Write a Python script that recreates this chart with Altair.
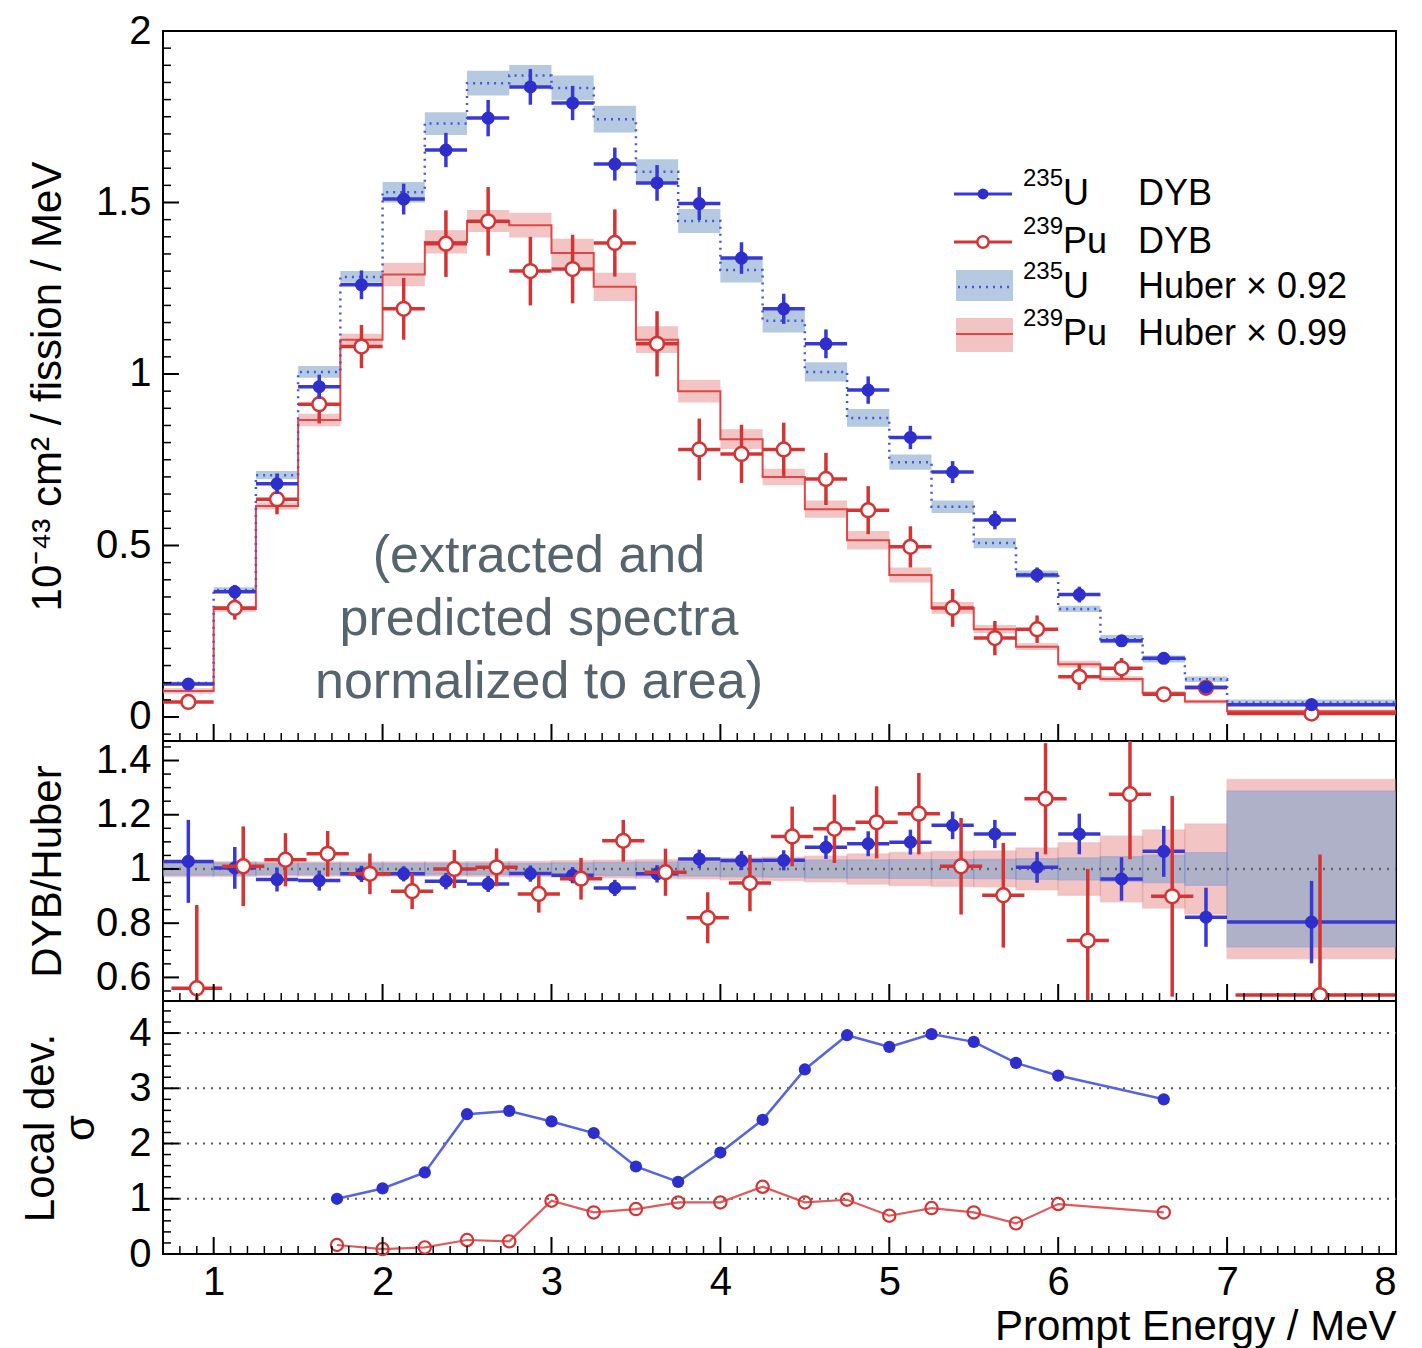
import altair as alt
import pandas as pd

FONT = "Liberation Sans"

# ---------------- data ----------------
bin_edges = [0.7, 1.0, 1.25, 1.5, 1.75, 2.0, 2.25, 2.5, 2.75, 3.0, 3.25, 3.5, 3.75, 4.0,
             4.25, 4.5, 4.75, 5.0, 5.25, 5.5, 5.75, 6.0, 6.25, 6.5, 6.75, 7.0, 8.0]

# top panel: extracted (DYB) spectra and Huber predictions
u_dyb = [0.096, 0.365, 0.68, 0.963, 1.26, 1.51, 1.653, 1.746, 1.837, 1.79, 1.612, 1.557, 1.497,
         1.338, 1.19, 1.088, 0.953, 0.815, 0.714, 0.574, 0.414, 0.357, 0.222, 0.171, 0.087, 0.036]
u_dyb_err = [0.012, 0.02, 0.03, 0.035, 0.042, 0.045, 0.05, 0.053, 0.052, 0.05, 0.048, 0.052, 0.048,
             0.046, 0.044, 0.042, 0.04, 0.034, 0.032, 0.027, 0.022, 0.023, 0.015, 0.012, 0.011, 0.008]
pu_dyb = [0.044, 0.318, 0.635, 0.912, 1.08, 1.19, 1.38, 1.445, 1.30, 1.306, 1.382, 1.088, 0.78,
          0.767, 0.78, 0.694, 0.603, 0.496, 0.318, 0.23, 0.256, 0.117, 0.142, 0.066, 0.085, 0.01]
pu_dyb_err = [0.01, 0.034, 0.044, 0.056, 0.063, 0.09, 0.097, 0.10, 0.10, 0.10, 0.098, 0.095, 0.09,
              0.085, 0.078, 0.076, 0.07, 0.06, 0.055, 0.05, 0.04, 0.038, 0.03, 0.022, 0.02, 0.01]
u_huber = [0.099, 0.37, 0.705, 1.006, 1.283, 1.53, 1.73, 1.848, 1.87, 1.834, 1.743, 1.59, 1.446,
           1.303, 1.155, 1.006, 0.872, 0.743, 0.613, 0.507, 0.416, 0.315, 0.227, 0.169, 0.11, 0.042]
u_huber_err = [0.004, 0.008, 0.012, 0.017, 0.017, 0.03, 0.033, 0.036, 0.031, 0.036, 0.039, 0.036, 0.035,
               0.036, 0.034, 0.028, 0.026, 0.022, 0.018, 0.015, 0.011, 0.009, 0.012, 0.01, 0.008, 0.009]
pu_huber = [0.076, 0.315, 0.615, 0.866, 1.10, 1.29, 1.385, 1.446, 1.434, 1.353, 1.254, 1.10, 0.95,
            0.81, 0.70, 0.606, 0.515, 0.414, 0.318, 0.256, 0.205, 0.154, 0.111, 0.069, 0.045, 0.017]
pu_huber_err = [0.008, 0.008, 0.01, 0.018, 0.017, 0.034, 0.034, 0.032, 0.036, 0.041, 0.041, 0.039, 0.033,
                0.029, 0.024, 0.025, 0.027, 0.022, 0.017, 0.012, 0.01, 0.01, 0.008, 0.007, 0.006, 0.005]

# middle panel: DYB / Huber ratios
u_ratio = [1.028, 1.004, 0.961, 0.957, 0.982, 0.982, 0.955, 0.945, 0.983, 0.977, 0.930, 0.982, 1.037,
           1.031, 1.032, 1.08, 1.093, 1.099, 1.161, 1.129, 1.006, 1.129, 0.963, 1.065, 0.822, 0.804]
u_ratio_err = [0.153, 0.077, 0.044, 0.037, 0.03, 0.028, 0.03, 0.03, 0.03, 0.03, 0.03, 0.032, 0.034,
               0.035, 0.037, 0.043, 0.046, 0.046, 0.051, 0.052, 0.057, 0.075, 0.08, 0.094, 0.109, 0.152]
pu_ratio = [0.56, 1.01, 1.034, 1.056, 0.982, 0.918, 1.0, 1.006, 0.908, 0.964, 1.104, 0.988, 0.82,
            0.948, 1.12, 1.148, 1.172, 1.204, 1.01, 0.903, 1.259, 0.736, 1.276, 0.899, None, 0.535]
pu_ratio_err = [0.307, 0.147, 0.098, 0.084, 0.075, 0.066, 0.07, 0.07, 0.069, 0.077, 0.077, 0.087, 0.094,
                0.104, 0.11, 0.126, 0.133, 0.15, 0.178, 0.193, 0.205, 0.264, 0.24, 0.37, None, 0.518]
u_band_rel = [0.022, 0.022, 0.02, 0.02, 0.02, 0.02, 0.02, 0.02, 0.02, 0.022, 0.024, 0.025, 0.026,
              0.028, 0.03, 0.032, 0.033, 0.034, 0.034, 0.035, 0.038, 0.04, 0.045, 0.05, 0.06, 0.287]
pu_band_rel = [0.028, 0.027, 0.026, 0.026, 0.026, 0.026, 0.026, 0.027, 0.028, 0.03, 0.032, 0.034, 0.036,
               0.04, 0.043, 0.047, 0.055, 0.061, 0.064, 0.066, 0.077, 0.097, 0.121, 0.144, 0.166, 0.33]
PU_RATIO_SHIFT = 0.05  # Pu points drawn slightly displaced in the ratio panel

# bottom panel: local deviation (sigma)
dev_x = [1.73, 2.0, 2.25, 2.5, 2.75, 3.0, 3.25, 3.5, 3.75, 4.0, 4.25, 4.5, 4.75, 5.0, 5.25, 5.5,
         5.75, 6.0, 6.625]
u_dev = [1.0, 1.187, 1.476, 2.53, 2.59, 2.40, 2.19, 1.584, 1.307, 1.837, 2.43, 3.34, 3.96, 3.75,
         3.98, 3.84, 3.46, 3.23, 2.80]
pu_dev = [0.163, 0.09, 0.12, 0.253, 0.229, 0.964, 0.753, 0.813, 0.934, 0.934, 1.217, 0.934, 0.982,
          0.693, 0.831, 0.753, 0.554, 0.904, 0.753]

x_major = [1, 2, 3, 4, 5, 6, 7, 8]
y_top_ticks = [0, 0.5, 1, 1.5, 2]
y_mid_ticks = [0.6, 0.8, 1.0, 1.2, 1.4]
y_bot_ticks = [0, 1, 2, 3, 4]
y_top_title = "10\u207b\u2074\u00b3 cm\u00b2 / fission / MeV"
y_mid_title = "DYB/Huber"
y_bot_title = ["Local dev.", "\u03c3"]
x_title = "Prompt Energy / MeV"
legend_iso = [("235", "U"), ("239", "Pu"), ("235", "U"), ("239", "Pu")]
legend_src = ["DYB", "DYB", "Huber \u00d7 0.92", "Huber \u00d7 0.99"]
note = "(extracted and\npredicted spectra\nnormalized to area)"

# ---------------- styles ----------------
BLUE = "#2e2ecc"
BLUE_LINE = "#3838d4"
RED = "#d43434"
UBAND = "#84a6cb"
PUBAND = "#e68a8a"
BLUE_STEP = "#4656dc"
RED_STEP = "#e04646"
W = 1233
H1, H2, H3 = 710, 260, 253

lo = bin_edges[:-1]
hi = bin_edges[1:]
mid = [(a + b) / 2 for a, b in zip(lo, hi)]

top = pd.DataFrame(dict(lo=lo, hi=hi, mid=mid, u=u_dyb, ue=u_dyb_err, pu=pu_dyb, pue=pu_dyb_err,
                        uh=u_huber, uhe=u_huber_err, puh=pu_huber, puhe=pu_huber_err))
top["u_lo"] = top.u - top.ue
top["u_hi"] = top.u + top.ue
top["pu_lo"] = top.pu - top.pue
top["pu_hi"] = top.pu + top.pue
top["uh_lo"] = top.uh - top.uhe
top["uh_hi"] = top.uh + top.uhe
top["puh_lo"] = top.puh - top.puhe
top["puh_hi"] = top.puh + top.puhe

steps = pd.DataFrame(dict(x=bin_edges, uh=u_huber + [u_huber[-1]], puh=pu_huber + [pu_huber[-1]]))

rat = pd.DataFrame(dict(lo=lo, hi=hi, mid=mid, u=u_ratio, ue=u_ratio_err,
                        ub=u_band_rel, pb=pu_band_rel))
rat["u_lo"] = rat.u - rat.ue
rat["u_hi"] = rat.u + rat.ue
rat["ub_lo"] = 1 - rat.ub
rat["ub_hi"] = 1 + rat.ub
rat["pb_lo"] = 1 - rat.pb
rat["pb_hi"] = 1 + rat.pb
prat = pd.DataFrame(dict(lo=lo, hi=hi, mid=mid, p=pu_ratio, pe=pu_ratio_err)).dropna()
prat["p"] = prat.p.astype(float)
prat["pe"] = prat.pe.astype(float)
prat["plo"] = prat.lo + PU_RATIO_SHIFT
prat["phi"] = (prat.hi + PU_RATIO_SHIFT).clip(upper=8.0)
prat["pmid"] = prat.mid + PU_RATIO_SHIFT
prat["p_lo"] = prat.p - prat.pe
prat["p_hi"] = prat.p + prat.pe

dev = pd.DataFrame(dict(x=dev_x, u=u_dev, p=pu_dev))
one = pd.DataFrame({"k": [0]})

xs = alt.Scale(domain=[0.7, 8.0], nice=False, zero=False)
ys1 = alt.Scale(domain=[-0.07, 2.0], nice=False, zero=False)
ys2 = alt.Scale(domain=[0.513, 1.472], nice=False, zero=False)
ys3 = alt.Scale(domain=[0.0, 4.58], nice=False, zero=False)

x_axis_bottom = alt.Axis(values=x_major, format="~g", ticks=False, tickSize=0, domain=False, grid=False,
                         labelFontSize=40, labelPadding=8, labelFont=FONT, labelColor="black",
                         title=x_title, titleFontSize=42, titleFont=FONT, titleFontWeight="normal",
                         titleAnchor="end", titlePadding=4, titleColor="black")


def yaxis(vals, title):
    return alt.Axis(values=vals, format="~g", ticks=False, tickSize=0, domain=False, grid=False,
                    labelFontSize=40, labelPadding=12, labelFont=FONT, labelColor="black",
                    title=title, titleFontSize=42, titleFont=FONT, titleFontWeight="normal",
                    titlePadding=26, titleColor="black", titleLineHeight=40)


def XQ(f, ax):
    return alt.X(f, type="quantitative", scale=xs, axis=ax)


def YQ(f, sc, ax):
    return alt.Y(f, type="quantitative", scale=sc, axis=ax)


def tick_layers(H, ys, yax, xax, y_major, y_minor, x_minor):
    lay = []
    xmaj = pd.DataFrame({"t": x_major})
    xmin = pd.DataFrame({"t": x_minor})
    lay.append(alt.Chart(xmaj).mark_rule(color="black", strokeWidth=2).encode(
        x=XQ("t", xax), y=alt.value(H), y2=alt.value(H - 17)))
    lay.append(alt.Chart(xmin).mark_rule(color="black", strokeWidth=1.5).encode(
        x=XQ("t", xax), y=alt.value(H), y2=alt.value(H - 8)))
    ymaj = pd.DataFrame({"t": y_major})
    ymin = pd.DataFrame({"t": y_minor})
    lay.append(alt.Chart(ymaj).mark_rule(color="black", strokeWidth=2).encode(
        y=YQ("t", ys, yax), x=alt.value(0), x2=alt.value(16)))
    lay.append(alt.Chart(ymin).mark_rule(color="black", strokeWidth=1.5).encode(
        y=YQ("t", ys, yax), x=alt.value(0), x2=alt.value(8)))
    return lay


x_minor = [round(0.7 + 0.1 * i, 2) for i in range(1, 73)]
x_minor = [v for v in x_minor if abs(v - round(v)) > 1e-6]
y1_minor = [round(-0.05 + 0.05 * i, 2) for i in range(0, 41)]
y1_minor = [v for v in y1_minor if abs(v * 2 - round(v * 2)) > 1e-6]
y2_minor = [round(0.55 + 0.05 * i, 2) for i in range(0, 19)]
y2_minor = [v for v in y2_minor if abs(v * 5 - round(v * 5)) > 1e-6]
y3_minor = [round(0.2 * i, 2) for i in range(1, 23)]
y3_minor = [v for v in y3_minor if abs(v - round(v)) > 1e-6]

# ---------------- top panel ----------------
ax1 = yaxis(y_top_ticks, y_top_title)
base1 = alt.Chart(top)
t_layers = [
    base1.mark_rect(color=PUBAND, opacity=0.5).encode(
        x=XQ("lo", None), x2="hi", y=YQ("puh_lo", ys1, ax1), y2="puh_hi"),
    base1.mark_rect(color=UBAND, opacity=0.6).encode(
        x=XQ("lo", None), x2="hi", y=YQ("uh_lo", ys1, ax1), y2="uh_hi"),
    alt.Chart(steps).mark_line(interpolate="step-after", color=RED_STEP, strokeWidth=2).encode(
        x=XQ("x", None), y=YQ("puh", ys1, ax1)),
    alt.Chart(steps).mark_line(interpolate="step-after", color=BLUE_STEP, strokeWidth=2.5,
                               strokeDash=[2, 5]).encode(
        x=XQ("x", None), y=YQ("uh", ys1, ax1)),
    base1.mark_rule(color=RED, strokeWidth=3.5).encode(x=XQ("lo", None), x2="hi", y=YQ("pu", ys1, ax1)),
    base1.mark_rule(color=RED, strokeWidth=3.5).encode(x=XQ("mid", None), y=YQ("pu_lo", ys1, ax1), y2="pu_hi"),
    base1.mark_point(shape="circle", filled=True, fill="white", stroke=RED, strokeWidth=2.5, size=190,
                     opacity=1).encode(x=XQ("mid", None), y=YQ("pu", ys1, ax1)),
    base1.mark_rule(color=BLUE_LINE, strokeWidth=3.5).encode(x=XQ("lo", None), x2="hi", y=YQ("u", ys1, ax1)),
    base1.mark_rule(color=BLUE_LINE, strokeWidth=3.5).encode(x=XQ("mid", None), y=YQ("u_lo", ys1, ax1), y2="u_hi"),
    base1.mark_point(shape="circle", filled=True, color=BLUE, size=170, opacity=1).encode(
        x=XQ("mid", None), y=YQ("u", ys1, ax1)),
]
t_layers += tick_layers(H1, ys1, ax1, None, y_top_ticks, y1_minor, x_minor)

# legend (pixel layout inside the top panel)
LX = 791
rows_y = [163, 211, 256, 303]
t_layers.append(alt.Chart(one).mark_rule(color=BLUE_LINE, strokeWidth=3).encode(
    x=alt.value(LX), x2=alt.value(LX + 58), y=alt.value(rows_y[0])))
t_layers.append(alt.Chart(one).mark_point(shape="circle", filled=True, color=BLUE, size=120, opacity=1).encode(
    x=alt.value(LX + 29), y=alt.value(rows_y[0])))
t_layers.append(alt.Chart(one).mark_rule(color=RED, strokeWidth=3).encode(
    x=alt.value(LX), x2=alt.value(LX + 58), y=alt.value(rows_y[1])))
t_layers.append(alt.Chart(one).mark_point(shape="circle", filled=True, fill="white", stroke=RED,
                                          strokeWidth=2.5, size=130, opacity=1).encode(
    x=alt.value(LX + 29), y=alt.value(rows_y[1])))
t_layers.append(alt.Chart(one).mark_rect(color=UBAND, opacity=0.6).encode(
    x=alt.value(LX + 2), x2=alt.value(LX + 59), y=alt.value(rows_y[2] - 17), y2=alt.value(rows_y[2] + 14)))
t_layers.append(alt.Chart(one).mark_rule(color=BLUE_STEP, strokeWidth=2.5, strokeDash=[2, 5]).encode(
    x=alt.value(LX + 4), x2=alt.value(LX + 57), y=alt.value(rows_y[2])))
t_layers.append(alt.Chart(one).mark_rect(color=PUBAND, opacity=0.5).encode(
    x=alt.value(LX + 2), x2=alt.value(LX + 59), y=alt.value(rows_y[3] - 16), y2=alt.value(rows_y[3] + 18)))
t_layers.append(alt.Chart(one).mark_rule(color=RED_STEP, strokeWidth=2).encode(
    x=alt.value(LX + 2), x2=alt.value(LX + 59), y=alt.value(rows_y[3])))
for i, ((mass, sym), src) in enumerate(zip(legend_iso, legend_src)):
    yb = rows_y[i] + 11
    t_layers.append(alt.Chart(one).mark_text(align="left", baseline="middle", fontSize=24, font=FONT,
                                             color="black").encode(
        x=alt.value(LX + 69), y=alt.value(rows_y[i] - 15), text=alt.value(mass)))
    t_layers.append(alt.Chart(one).mark_text(align="left", baseline="alphabetic", fontSize=36, font=FONT,
                                             color="black").encode(
        x=alt.value(LX + 109), y=alt.value(yb), text=alt.value(sym)))
    t_layers.append(alt.Chart(one).mark_text(align="left", baseline="alphabetic", fontSize=36, font=FONT,
                                             color="black").encode(
        x=alt.value(LX + 184), y=alt.value(yb), text=alt.value(src)))

t_layers.append(alt.Chart(one).mark_text(align="center", baseline="alphabetic", fontSize=52, font=FONT,
                                         color="#56646e", lineBreak="\n", lineHeight=63).encode(
    x=alt.value(376), y=alt.value(541), text=alt.value(note)))

panel1 = alt.layer(*t_layers).properties(width=W, height=H1)

# ---------------- middle panel ----------------
ax2 = yaxis(y_mid_ticks, y_mid_title)
base2 = alt.Chart(rat)
basep = alt.Chart(prat)
m_layers = [
    base2.mark_rect(color=PUBAND, opacity=0.5, stroke="#e07878", strokeWidth=1.5, strokeOpacity=0.6,
                    clip=True).encode(x=XQ("lo", None), x2="hi", y=YQ("pb_lo", ys2, ax2), y2="pb_hi"),
    base2.mark_rect(color=UBAND, opacity=0.6, stroke="#6f8fd8", strokeWidth=1.5, strokeOpacity=0.7,
                    clip=True).encode(x=XQ("lo", None), x2="hi", y=YQ("ub_lo", ys2, ax2), y2="ub_hi"),
    alt.Chart(pd.DataFrame({"v": [1.0]})).mark_rule(color="#666666", strokeWidth=2.5,
                                                      strokeDash=[2, 6]).encode(
        y=YQ("v", ys2, ax2), x=alt.value(0), x2=alt.value(W)),
    base2.mark_rule(color=BLUE_LINE, strokeWidth=3.5, clip=True).encode(
        x=XQ("lo", None), x2="hi", y=YQ("u", ys2, ax2)),
    base2.mark_rule(color=BLUE_LINE, strokeWidth=3.5, clip=True).encode(
        x=XQ("mid", None), y=YQ("u_lo", ys2, ax2), y2="u_hi"),
    base2.mark_point(shape="circle", filled=True, color=BLUE, size=170, opacity=1, clip=True).encode(
        x=XQ("mid", None), y=YQ("u", ys2, ax2)),
    basep.mark_rule(color=RED, strokeWidth=3.5, clip=True).encode(
        x=XQ("plo", None), x2="phi", y=YQ("p", ys2, ax2)),
    basep.mark_rule(color=RED, strokeWidth=3.5, clip=True).encode(
        x=XQ("pmid", None), y=YQ("p_lo", ys2, ax2), y2="p_hi"),
    basep.mark_point(shape="circle", filled=True, fill="white", stroke=RED, strokeWidth=2.5, size=190,
                     opacity=1, clip=True).encode(x=XQ("pmid", None), y=YQ("p", ys2, ax2)),
]
m_layers += tick_layers(H2, ys2, ax2, None, y_mid_ticks, y2_minor, x_minor)
panel2 = alt.layer(*m_layers).properties(width=W, height=H2)

# ---------------- bottom panel ----------------
ax3 = yaxis(y_bot_ticks, y_bot_title)
base3 = alt.Chart(dev)
b_layers = [
    alt.Chart(pd.DataFrame({"v": [1, 2, 3, 4]})).mark_rule(color="#555555", strokeWidth=2,
                                                           strokeDash=[2, 6]).encode(
        y=YQ("v", ys3, ax3), x=alt.value(0), x2=alt.value(W)),
    base3.mark_line(color="#5565e0", strokeWidth=2.5).encode(x=XQ("x", x_axis_bottom), y=YQ("u", ys3, ax3)),
    base3.mark_point(shape="circle", filled=True, color=BLUE, size=150, opacity=1).encode(
        x=XQ("x", x_axis_bottom), y=YQ("u", ys3, ax3)),
    base3.mark_line(color="#e05a5a", strokeWidth=2.2).encode(x=XQ("x", x_axis_bottom), y=YQ("p", ys3, ax3)),
    base3.mark_point(shape="circle", filled=False, color=RED, strokeWidth=2.2, size=150, opacity=1).encode(
        x=XQ("x", x_axis_bottom), y=YQ("p", ys3, ax3)),
]
b_layers += tick_layers(H3, ys3, ax3, x_axis_bottom, y_bot_ticks, y3_minor, x_minor)
panel3 = alt.layer(*b_layers).properties(width=W, height=H3)

chart = alt.vconcat(panel1, panel2, panel3, spacing=0, bounds="flush").resolve_scale(
    x="independent", y="independent"
).properties(
    padding={"left": 18, "top": 10, "right": 10, "bottom": 2},
    background="white",
).configure_view(
    stroke="black", strokeWidth=2
)

chart.save("out.html", embed_options={"renderer": "svg", "actions": False})
